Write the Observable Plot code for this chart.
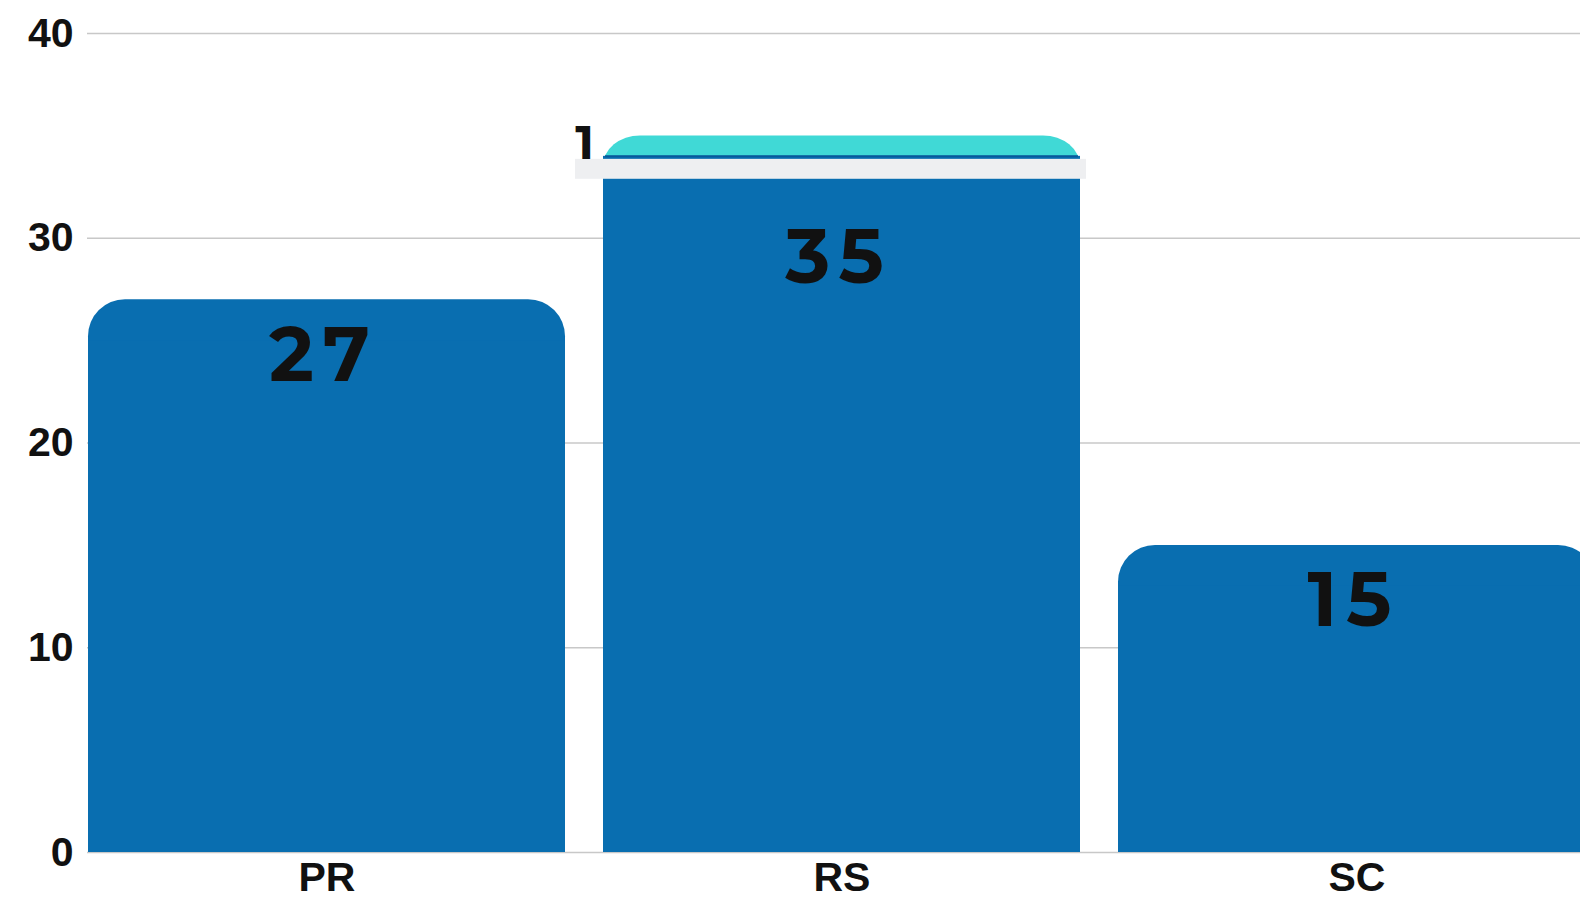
<!DOCTYPE html>
<html>
<head>
<meta charset="utf-8">
<script src="https://cdn.jsdelivr.net/npm/d3@7"></script>
<script src="https://cdn.jsdelivr.net/npm/@observablehq/plot@0.6"></script>
<style>
  html, body { margin: 0; padding: 0; background: #fff; overflow: hidden; }
  #chart { width: 1580px; height: 903px; overflow: hidden; }
  #chart svg { max-width: none !important; }
  .value-label text { letter-spacing: 9px; }
</style>
</head>
<body>
<div id="chart"></div>
<script>
const categories = ["PR", "RS", "SC"];
const primary = [27, 34, 15];
const secondary = [0, 1, 0];
const yTicks = [0, 10, 20, 30, 40];

const rows = categories.map((c, i) => ({
  cat: c,
  primary: primary[i],
  secondary: secondary[i],
  total: primary[i] + secondary[i]
}));
const stacked = rows.filter(d => d.secondary > 0);
const single = rows.filter(d => d.secondary === 0);

const DARK = "#096eb0";
const TEAL = "#40d9d6";
const R = 37;
const LABEL_FONT = "Montserrat, Lato, Inter, sans-serif";

const chart = Plot.plot({
  width: 1600,
  height: 903,
  marginLeft: 87,
  marginRight: 4,
  marginTop: 33,
  marginBottom: 51,
  style: { fontFamily: "'Liberation Sans', Arial, sans-serif", background: "#fff", overflow: "visible", maxWidth: "none" },
  x: { domain: categories, paddingInner: 0.074, paddingOuter: 0, label: null },
  y: { domain: [0, 40], ticks: yTicks, label: null },
  marks: [
    Plot.gridY(yTicks, { stroke: "#c8c8c8", strokeOpacity: 1, strokeWidth: 1.5 }),
    Plot.barY(stacked, { x: "cat", y1: d => d.primary - 2, y2: "total", fill: TEAL, rx: R }),
    Plot.barY(single, { x: "cat", y1: d => d.primary - 4, y2: "primary", fill: DARK, rx: R }),
    Plot.barY(rows, { x: "cat", y1: 0, y2: d => d.secondary > 0 ? d.primary : d.primary - 2, fill: DARK }),
    Plot.ruleY(stacked, { x1: "cat", x2: "cat", y: "primary", stroke: "#07589a", strokeWidth: 2, insetLeft: 2, insetRight: 2 }),
    Plot.rectY(stacked, { x: "cat", y1: "primary", y2: d => d.primary - 1.12, fill: "#eeeff1", insetTop: 3, insetLeft: -28, insetRight: -6 }),
    Plot.text(stacked, { x: "cat", y: "primary", text: d => String(d.secondary), textAnchor: "end", lineAnchor: "bottom", dx: -248, dy: 3, fontSize: 48, fontWeight: 700, fill: "#111", fontFamily: LABEL_FONT }),
    Plot.text(single, { x: "cat", y: "total", text: d => String(d.total), lineAnchor: "bottom", dy: 81, dx: -3, fontSize: 76, fontWeight: 700, fill: "#111", fontFamily: LABEL_FONT, className: "value-label" }),
    Plot.text(stacked, { x: "cat", y: "total", text: d => String(d.total), lineAnchor: "bottom", dy: 147, dx: -3, fontSize: 76, fontWeight: 700, fill: "#111", fontFamily: LABEL_FONT, className: "value-label" }),
    Plot.axisY(yTicks, { tickSize: 0, tickPadding: 14, fontSize: 41, fontWeight: "bold", fill: "#111", label: null }),
    Plot.axisX({ tickSize: 0, tickPadding: 9, fontSize: 41, fontWeight: "bold", fill: "#111", label: null })
  ]
});
document.getElementById("chart").appendChild(chart);
</script>
</body>
</html>
